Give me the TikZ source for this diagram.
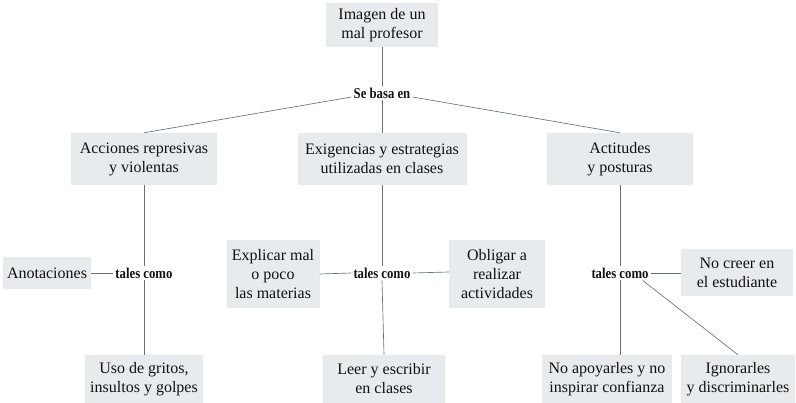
\documentclass[tikz,border=0pt]{standalone}
\usepackage{fontspec}
\setmainfont{Liberation Serif}
\newfontfamily\lblfont[FakeStretch=0.85]{Liberation Serif Bold}
\begin{document}
\begin{tikzpicture}[x=1pt,y=-1pt,
  box/.style={fill=boxfill, text=txt, align=center, inner sep=2pt,
    font=\fontsize{16}{19}\selectfont},
  lbl/.style={text=txt, inner sep=2pt, font=\lblfont\fontsize{15}{16}\selectfont},
  conn/.style={draw=linec, line width=0.65pt}]
\definecolor{boxfill}{HTML}{E8EBEE}
\definecolor{linec}{HTML}{5F7385}
\definecolor{txt}{HTML}{111111}
\useasboundingbox (0,0) rectangle (796,403);
% top
\node[box, minimum width=112pt, minimum height=44pt] (top) at (382,25) {Imagen de un\\mal profesor};
\node[lbl] (sb) at (382,93) {Se basa en};
% level 1
\node[box, minimum width=146pt, minimum height=52pt] (l1) at (144,159) {Acciones represivas\\y violentas};
\node[box, minimum width=169pt, minimum height=52pt] (l2) at (382,159) {Exigencias y estrategias\\utilizadas en clases};
\node[box, minimum width=146pt, minimum height=52pt] (l3) at (620,159) {Actitudes\\y posturas};
% tales como
\node[lbl] (t1) at (144,273) {tales como};
\node[lbl] (t2) at (382,273) {tales como};
\node[lbl] (t3) at (620,273) {tales como};
% leaves
\node[box, minimum width=88pt, minimum height=32pt] (an) at (47,273) {Anotaciones};
\node[box, minimum width=118pt, minimum height=48pt] (us) at (144,379) {Uso de gritos,\\insultos y golpes};
\node[box, minimum width=93pt, minimum height=68pt] (ex) at (273,274) {Explicar mal\\o poco\\las materias};
\node[box, minimum width=96pt, minimum height=68pt] (ob) at (497,274) {Obligar a\\realizar\\actividades};
\node[box, minimum width=122pt, minimum height=48pt] (le) at (384,379) {Leer y escribir\\en clases};
\node[box, minimum width=112pt, minimum height=47pt] (nc) at (737,273) {No creer en\\el estudiante};
\node[box, minimum width=130pt, minimum height=48pt] (na) at (607,379) {No apoyarles y no\\inspirar confianza};
\node[box, minimum width=114pt, minimum height=48pt] (ig) at (738,379) {Ignorarles\\y discriminarles};
% connectors
\draw[conn] (top.south) -- (sb.north);
\draw[conn] (sb.south) -- (l2.north);
\draw[conn] ([yshift=-4pt]sb.west) -- (l1.north);
\draw[conn] ([yshift=-4pt]sb.east) -- (l3.north);
\draw[conn] (l1.south) -- (t1.north);
\draw[conn] (t1.south) -- (us.north);
\draw[conn] (an.east) -- (t1.west);
\draw[conn] (l2.south) -- (t2.north);
\draw[conn] (t2.south) -- (le.north);
\draw[conn] (ex.east) -- (t2.west);
\draw[conn] (t2.east) -- ([yshift=2pt]ob.west);
\draw[conn] (l3.south) -- (t3.north);
\draw[conn] (t3.south) -- (t3.south |- na.north);
\draw[conn] (t3.east) -- (nc.west);
\draw[conn] ([xshift=-8pt]t3.south east) -- (ig.north);
\end{tikzpicture}
\end{document}
